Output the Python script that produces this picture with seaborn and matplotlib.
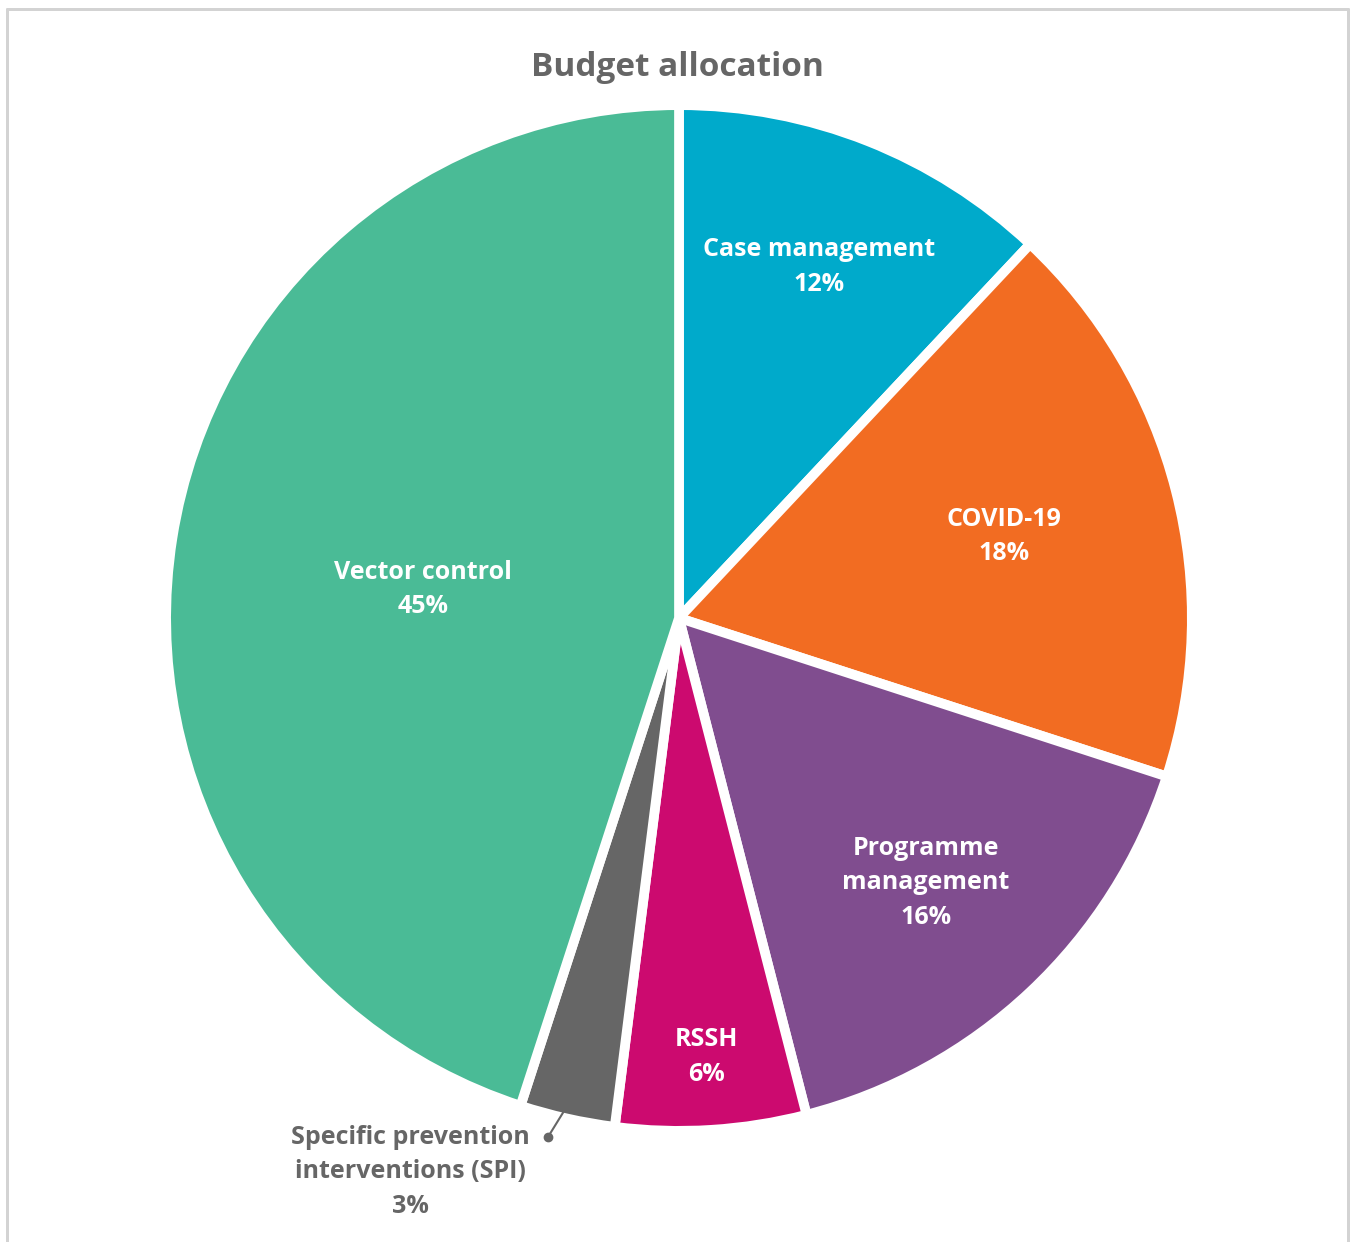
import numpy as np
import matplotlib
matplotlib.use("Agg")
import matplotlib.pyplot as plt
import seaborn as sns
from matplotlib.lines import Line2D

categories = ["Case management", "COVID-19", "Programme\nmanagement", "RSSH",
              "Specific prevention\ninterventions (SPI)", "Vector control"]
values = [12, 18, 16, 6, 3, 45]
pct_labels = ["12%", "18%", "16%", "6%", "3%", "45%"]
colors = ["#00AACB", "#F26C22", "#804D8F", "#CC0A6F", "#666666", "#4ABB96"]
title = "Budget allocation"

sns.set_theme(style="white")
plt.rcParams['font.family'] = ['Open Sans', 'DejaVu Sans']

W, H, DPI = 1350, 1242, 100
fig = plt.figure(figsize=(W / DPI, H / DPI), dpi=DPI)
ax = fig.add_axes([0, 0, 1, 1])

cx, cy, R = 679, 618, 508  # pixel geometry
lw_pt = 7
edge_px = lw_pt * DPI / 72
wedges, _ = ax.pie(values, colors=colors, startangle=90, counterclock=False,
                   radius=1 + edge_px / 2 / R,
                   wedgeprops=dict(edgecolor="white", linewidth=lw_pt))

ax.set_xlim(-cx / R, (W - cx) / R)
ax.set_ylim((cy - H) / R, cy / R)
ax.set_aspect("auto")
ax.axis("off")

# label radius fractions and vertical pixel nudges (styling)
label_r = [0.75, 0.66, 0.71, 0.86, None, 0.51]
label_dy = [-3, -2, -2, -3, 0, -12]
for w, lab, pct, r, dy in zip(wedges, categories, pct_labels, label_r, label_dy):
    mid = np.deg2rad((w.theta1 + w.theta2) / 2)
    if r is None:
        # leader line to outside label
        x0, y0 = 0.97 * np.cos(mid), 0.97 * np.sin(mid)
        xd, yd = (548 - cx) / R, (cy - 1137) / R
        ax.plot([x0, xd], [y0, yd], color="#666666", lw=1.5)
        ax.plot([xd], [yd], marker="o", ms=6, color="#666666")
        ax.text((410 - cx) / R, (cy - 1125) / R, lab + "\n" + pct, ha="center", va="top",
                fontsize=18, color="#666666", fontweight="bold", linespacing=1.5)
        continue
    ax.text(r * np.cos(mid), r * np.sin(mid) + dy / R, lab + "\n" + pct,
            ha="center", va="center",
            fontsize=18, color="white", fontweight="bold", linespacing=1.5)

fig.text(677 / W, 1 - 67 / H, title, ha="center", va="center", fontsize=24,
         fontweight="bold", color="#666666")

# light frame (top, left, right)
bc = "#D3D3D3"
blw = 3 * 72 / DPI
fig.add_artist(Line2D([7 / W, 7 / W], [0, 1 - 9 / H], color=bc, lw=blw, transform=fig.transFigure))
fig.add_artist(Line2D([1348 / W, 1348 / W], [0, 1 - 9 / H], color=bc, lw=blw, transform=fig.transFigure))
fig.add_artist(Line2D([7 / W, 1348 / W], [1 - 9 / H, 1 - 9 / H], color=bc, lw=blw, transform=fig.transFigure))

fig.savefig("out.png", dpi=DPI)
